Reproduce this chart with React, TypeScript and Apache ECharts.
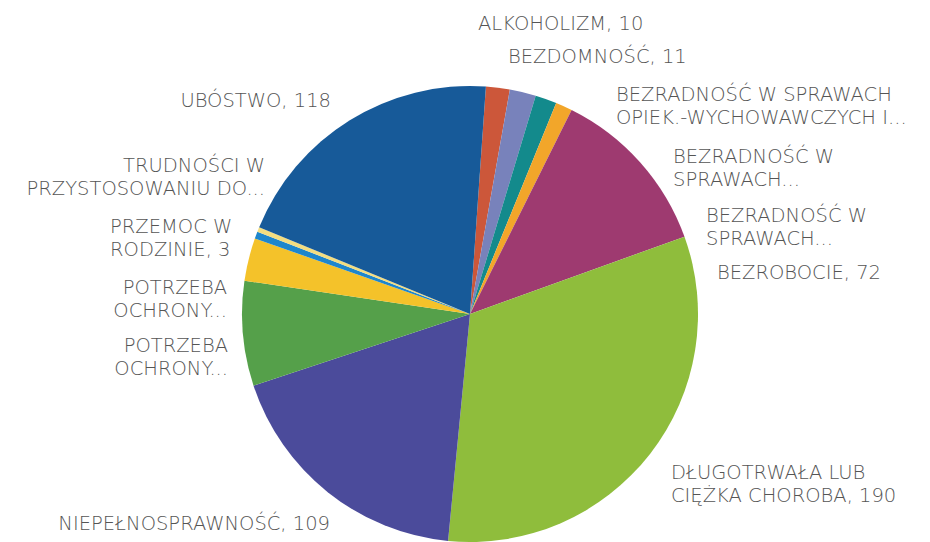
import React, { useEffect, useRef } from "react";
import * as echarts from "echarts";

const categories = [
  "ALKOHOLIZM",
  "BEZDOMNOŚĆ",
  "BEZRADNOŚĆ W SPRAWACH\nOPIEK.-WYCHOWAWCZYCH I...",
  "BEZRADNOŚĆ W\nSPRAWACH...",
  "BEZRADNOŚĆ W\nSPRAWACH...",
  "BEZROBOCIE",
  "DŁUGOTRWAŁA LUB\nCIĘŻKA CHOROBA",
  "NIEPEŁNOSPRAWNOŚĆ",
  "POTRZEBA\nOCHRONY...",
  "POTRZEBA\nOCHRONY...",
  "PRZEMOC W\nRODZINIE",
  "TRUDNOŚCI W\nPRZYSTOSOWANIU DO...",
  "UBÓSTWO",
];

const values = [10, 11, 9, 7, 0, 72, 190, 109, 44, 18, 3, 2, 118];

const colors = [
  "#cc573a",
  "#7882bb",
  "#138a8c",
  "#f2a62a",
  "#e07b39",
  "#9e3a70",
  "#8fbd3c",
  "#4b4b9b",
  "#55a04a",
  "#f4c22a",
  "#1e86cc",
  "#f3dd80",
  "#175a99",
];

// label anchor placement (align, x, y-middle)
const labelAnchors: [string, number, number][] = [
  ["left", 478, 23],
  ["left", 508, 56],
  ["left", 616, 106],
  ["left", 673, 168],
  ["left", 706, 227],
  ["left", 717, 272],
  ["left", 671, 484],
  ["right", 330, 523],
  ["right", 228, 357],
  ["right", 227, 299],
  ["left", 110, 238],
  ["right", 265, 177],
  ["right", 331, 100],
];

export default function App() {
  const ref = useRef<HTMLDivElement>(null);
  useEffect(() => {
    if (!ref.current) return;
    const chart = echarts.init(ref.current, undefined, { renderer: "svg" });
    chart.setOption({
      animation: false,
      backgroundColor: "#ffffff",
      series: [
        {
          type: "pie",
          center: [470, 314],
          radius: 228,
          startAngle: 86,
          clockwise: true,
          avoidLabelOverlap: false,
          data: categories.map((c, i) => ({
            name: c,
            value: values[i],
            itemStyle: { color: colors[i] },
          })),
          label: {
            show: true,
            position: "outside",
            fontFamily: "DejaVu Sans",
            fontWeight: 200,
            fontSize: 19.5,
            lineHeight: 23,
            color: "#555555",
            formatter: (p: any) =>
              p.name.endsWith("...") ? p.name : `${p.name}, ${p.value}`,
          },
          labelLine: { show: false },
          labelLayout: (params: any) => {
            const a = labelAnchors[params.dataIndex];
            return { x: a[1], y: a[2], align: a[0], verticalAlign: "middle" };
          },
        },
      ],
    });
    return () => chart.dispose();
  }, []);
  return (
    <div
      ref={ref}
      style={{ position: "fixed", left: 0, top: 0, width: 930, height: 542 }}
    />
  );
}
